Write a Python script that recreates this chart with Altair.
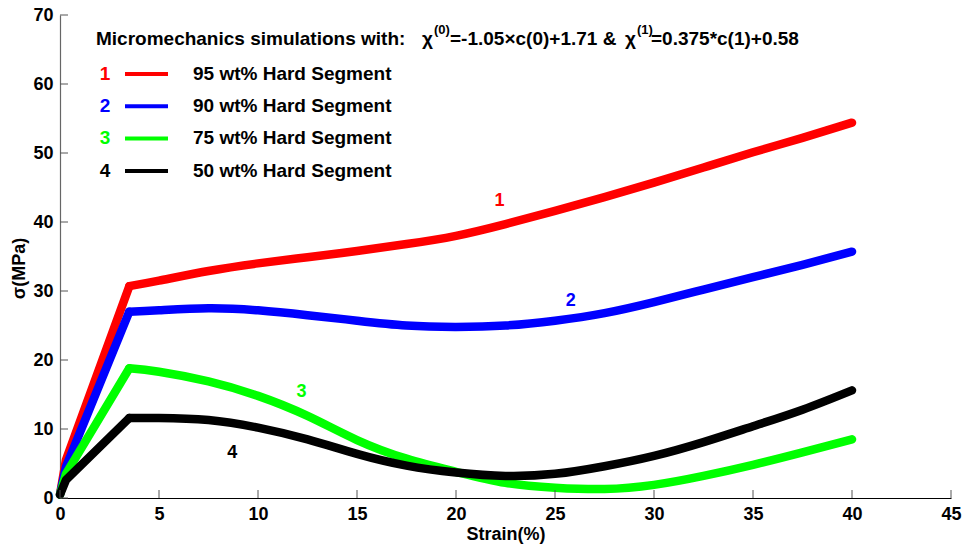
import altair as alt
import pandas as pd

# ---- data -------------------------------------------------------------
strain = [0, 0.3, 3.5, 5, 7.5, 10, 12.5, 15, 17.5, 20, 22.5, 25, 27.5, 30, 32.5, 35, 37.5, 40]
stress_95 = [0.5, 5.5, 30.7, 31.5, 32.9, 34.0, 34.9, 35.8, 36.8, 38.0, 39.7, 41.6, 43.6, 45.7, 47.9, 50.1, 52.2, 54.4]
stress_90 = [0.5, 4.5, 27.0, 27.2, 27.5, 27.2, 26.5, 25.7, 25.0, 24.8, 25.0, 25.7, 26.8, 28.4, 30.2, 32.0, 33.8, 35.7]
stress_75 = [0.5, 3.5, 18.8, 18.3, 16.9, 14.8, 11.9, 8.4, 5.7, 3.8, 2.2, 1.5, 1.3, 1.9, 3.2, 4.8, 6.6, 8.5]
stress_50 = [0.5, 2.6, 11.6, 11.6, 11.3, 10.2, 8.5, 6.4, 4.7, 3.7, 3.2, 3.5, 4.6, 6.1, 8.1, 10.4, 12.8, 15.6]

series_ids = ["1", "2", "3", "4"]
series_labels = ["95 wt% Hard Segment", "90 wt% Hard Segment",
                 "75 wt% Hard Segment", "50 wt% Hard Segment"]
series_colors = ["#ff0000", "#0000ff", "#00ff00", "#000000"]
yield_strain = 3.5

x_ticks = [0, 5, 10, 15, 20, 25, 30, 35, 40, 45]
y_ticks = [0, 10, 20, 30, 40, 50, 60, 70]

# ---- layout -----------------------------------------------------------
W, H = 891, 483
FONT = "Liberation Sans"
# curve number annotations (strain, stress)
label_anchor_x = [22.2, 25.8, 12.2, 8.7]
label_anchor_y = [43.0, 28.6, 15.4, 6.5]

rows = []
for sid, ys in zip(series_ids, [stress_95, stress_90, stress_75, stress_50]):
    for x, y in zip(strain, ys):
        if x <= yield_strain:
            rows.append({"id": sid, "stage": "elastic", "strain": x, "stress": y})
        if x >= yield_strain:
            rows.append({"id": sid, "stage": "plastic", "strain": x, "stress": y})
curves = pd.DataFrame(rows)

color = alt.Color("id:N", scale=alt.Scale(domain=series_ids, range=series_colors), legend=None)

xscale = alt.Scale(domain=[0, 45], nice=False, zero=False)
yscale = alt.Scale(domain=[0, 70], nice=False, zero=False)

x_axis = alt.Axis(values=x_ticks, tickSize=0, grid=False, labelFont=FONT, labelFontSize=18,
                  labelFontWeight="bold", labelColor="black", labelPadding=7, labelFlush=False,
                  domainColor="black", domainWidth=1.2, title="Strain(%)", titleFont=FONT,
                  titleFontSize=18, titleFontWeight="bold", titleColor="black",
                  titleBaseline="alphabetic", titleY=41)
y_axis = alt.Axis(values=y_ticks, tickSize=0, grid=False, labelFont=FONT, labelFontSize=18,
                  labelFontWeight="bold", labelColor="black", labelPadding=7, labelFlush=False,
                  domainColor="#666666", domainWidth=1.2, title="σ(MPa)", titleFont=FONT,
                  titleFontSize=18, titleFontWeight="bold", titleColor="black",
                  titleAngle=270, titleX=-41, titleY=253, titleAlign="center",
                  titleBaseline="middle")

base = alt.Chart(curves)

# straight loading branch up to yield
elastic = base.transform_filter(alt.datum.stage == "elastic").mark_line(
    strokeWidth=8.5, strokeCap="round", strokeJoin="round", interpolate="linear"
).encode(
    x=alt.X("strain:Q", scale=xscale, axis=x_axis),
    y=alt.Y("stress:Q", scale=yscale, axis=y_axis),
    color=color,
    detail="id:N",
)

# smooth post-yield branch
plastic = base.transform_filter(alt.datum.stage == "plastic").mark_line(
    strokeWidth=8.5, strokeCap="round", strokeJoin="round", interpolate="natural"
).encode(
    x=alt.X("strain:Q", scale=xscale),
    y=alt.Y("stress:Q", scale=yscale),
    color=color,
    detail="id:N",
)

# inward tick marks
xt = alt.Chart(pd.DataFrame({"t": x_ticks})).mark_rule(color="#555555", strokeWidth=1).encode(
    x=alt.X("t:Q", scale=xscale), y=alt.value(H), y2=alt.value(H - 8))
yt = alt.Chart(pd.DataFrame({"t": y_ticks})).mark_rule(color="#555555", strokeWidth=1).encode(
    y=alt.Y("t:Q", scale=yscale), x=alt.value(0), x2=alt.value(8))

# numbers next to each curve
anno = pd.DataFrame({"id": series_ids, "x": label_anchor_x, "y": label_anchor_y})
curve_numbers = alt.Chart(anno).mark_text(
    font=FONT, fontSize=18, fontWeight="bold", align="center", baseline="middle"
).encode(x=alt.X("x:Q", scale=xscale), y=alt.Y("y:Q", scale=yscale), text="id:N", color=color)

# legend block
leg = pd.DataFrame({"id": series_ids, "label": series_labels})
leg["row_y"] = [59 + 32.3 * i for i in range(len(leg))]
leg["text_y"] = leg["row_y"] + 5.7
leg["num_x"] = 45
leg["x0"] = 65
leg["x1"] = 108
leg["txt_x"] = 133

px = dict(scale=None)
leg_nums = alt.Chart(leg).mark_text(font=FONT, fontSize=19, fontWeight="bold", align="center",
                                     baseline="alphabetic").encode(
    x=alt.X("num_x:Q", **px), y=alt.Y("text_y:Q", **px), text="id:N", color=color)
leg_lines = alt.Chart(leg).mark_rule(strokeWidth=4).encode(
    x=alt.X("x0:Q", **px), x2="x1:Q", y=alt.Y("row_y:Q", **px), color=color)
leg_text = alt.Chart(leg).mark_text(font=FONT, fontSize=19, fontWeight="bold", align="left",
                                     baseline="alphabetic", color="black").encode(
    x=alt.X("txt_x:Q", **px), y=alt.Y("text_y:Q", **px), text="label:N")


def txt(s, x, y, size=19):
    return alt.Chart(alt.Data(values=[{}])).mark_text(
        text=s, font=FONT, fontSize=size, fontWeight="bold", align="left",
        baseline="alphabetic", color="black"
    ).encode(x=alt.value(x), y=alt.value(y))


heading = [
    txt("Micromechanics simulations with:", 36, 30),
    txt("χ", 362, 30),
    txt("(0)", 374, 19, size=13),
    txt("=-1.05×c(0)+1.71 &", 390, 30),
    txt("χ", 565, 30),
    txt("(1)", 577, 19, size=13),
    txt("=0.375*c(1)+0.58", 591, 30),
]

chart = alt.layer(
    elastic, plastic, xt, yt, curve_numbers, leg_lines, leg_nums, leg_text, *heading
).properties(
    width=W, height=H,
    autosize=alt.AutoSizeParams(type="none"),
    padding={"left": 60, "top": 15, "right": 16, "bottom": 50},
    background="white",
).configure_view(strokeWidth=0)

chart.save("out.html", embed_options={"renderer": "svg", "actions": False})
